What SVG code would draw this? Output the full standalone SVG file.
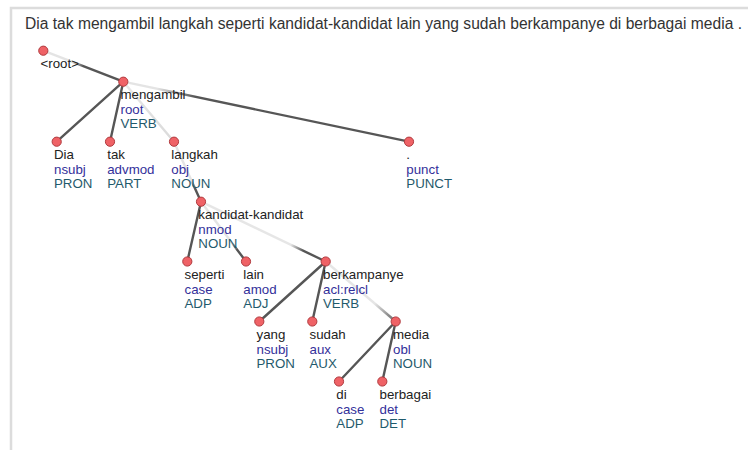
<svg xmlns="http://www.w3.org/2000/svg" width="748" height="450" viewBox="0 0 748 450">
  <defs>
    <style>
      .frame { fill: #ffffff; stroke: #dcdcdc; stroke-width: 2.5; }
      .title { font-family: "Liberation Sans", Arial, sans-serif; font-size: 15.6px; fill: #333333; }
      .edge { stroke-width: 2.4; stroke-linecap: round; fill: none; }
      .dark { stroke: #565656; }
      .node circle { fill: #ef6266; stroke: #b03a3e; stroke-width: 1; }
      .node text { font-family: "Liberation Sans", Arial, sans-serif; font-size: 13.3px; }
      .form { fill: #222222; }
      .rel { fill: #33309a; }
      .pos { fill: #1f5a6c; }
    </style>
    <!-- edges toward a dependent on the right fade in from the head -->
    <linearGradient id="g-root" gradientUnits="userSpaceOnUse" x1="43.3" y1="50.7" x2="123.3" y2="81.7">
      <stop offset="0" stop-color="#e4e4e4"/><stop offset="0.35" stop-color="#e4e4e4"/><stop offset="0.5" stop-color="#565656"/><stop offset="1" stop-color="#565656"/>
    </linearGradient>
    <linearGradient id="g-langkah" gradientUnits="userSpaceOnUse" x1="123.3" y1="81.7" x2="174" y2="141.7">
      <stop offset="0" stop-color="#e8e8e8"/><stop offset="1" stop-color="#dadada"/>
    </linearGradient>
    <linearGradient id="g-punct" gradientUnits="userSpaceOnUse" x1="123.3" y1="81.7" x2="409" y2="141.7">
      <stop offset="0" stop-color="#e4e4e4"/><stop offset="0.12" stop-color="#e4e4e4"/><stop offset="0.25" stop-color="#565656"/><stop offset="1" stop-color="#565656"/>
    </linearGradient>
    <linearGradient id="g-kandidat" gradientUnits="userSpaceOnUse" x1="174" y1="141.7" x2="201" y2="201.7">
      <stop offset="0" stop-color="#e4e4e4"/><stop offset="0.65" stop-color="#e4e4e4"/><stop offset="0.78" stop-color="#565656"/><stop offset="1" stop-color="#565656"/>
    </linearGradient>
    <linearGradient id="g-lain" gradientUnits="userSpaceOnUse" x1="201" y1="201.7" x2="246" y2="261.5">
      <stop offset="0" stop-color="#e4e4e4"/><stop offset="0.7" stop-color="#e4e4e4"/><stop offset="0.8" stop-color="#565656"/><stop offset="1" stop-color="#565656"/>
    </linearGradient>
    <linearGradient id="g-berkampanye" gradientUnits="userSpaceOnUse" x1="201" y1="201.7" x2="325.7" y2="261.5">
      <stop offset="0" stop-color="#e6e6e6"/><stop offset="0.72" stop-color="#e6e6e6"/><stop offset="0.82" stop-color="#565656"/><stop offset="1" stop-color="#565656"/>
    </linearGradient>
    <linearGradient id="g-media" gradientUnits="userSpaceOnUse" x1="325.7" y1="261.5" x2="395.7" y2="321.5">
      <stop offset="0" stop-color="#e6e6e6"/><stop offset="0.7" stop-color="#e6e6e6"/><stop offset="0.9" stop-color="#8a8a8a"/><stop offset="1" stop-color="#6a6a6a"/>
    </linearGradient>
  </defs>

  <rect class="frame" x="11" y="8" width="800" height="500"/>
  <text class="title" x="25" y="29" textLength="717" lengthAdjust="spacing">Dia tak mengambil langkah seperti kandidat-kandidat lain yang sudah berkampanye di berbagai media .</text>

  <g id="connectors">
    <line class="edge" stroke="url(#g-root)" x1="43.3" y1="50.7" x2="123.3" y2="81.7"/>
    <line class="edge dark" x1="123.3" y1="81.7" x2="56.7" y2="141.7"/>
    <line class="edge dark" x1="123.3" y1="81.7" x2="110" y2="141.7"/>
    <line class="edge" stroke="url(#g-langkah)" x1="123.3" y1="81.7" x2="174" y2="141.7"/>
    <line class="edge" stroke="url(#g-punct)" x1="123.3" y1="81.7" x2="409" y2="141.7"/>
    <line class="edge" stroke="url(#g-kandidat)" x1="174" y1="141.7" x2="201" y2="201.7"/>
    <line class="edge dark" x1="201" y1="201.7" x2="187.3" y2="261.5"/>
    <line class="edge" stroke="url(#g-lain)" x1="201" y1="201.7" x2="246" y2="261.5"/>
    <line class="edge" stroke="url(#g-berkampanye)" x1="201" y1="201.7" x2="325.7" y2="261.5"/>
    <line class="edge dark" x1="325.7" y1="261.5" x2="259.3" y2="321.5"/>
    <line class="edge dark" x1="325.7" y1="261.5" x2="312.3" y2="321.5"/>
    <line class="edge" stroke="url(#g-media)" x1="325.7" y1="261.5" x2="395.7" y2="321.5"/>
    <line class="edge dark" x1="395.7" y1="321.5" x2="339" y2="381.5"/>
    <line class="edge dark" x1="395.7" y1="321.5" x2="382.3" y2="381.5"/>
  </g>

  <g id="node-root" class="node">
    <circle cx="43.3" cy="50.7" r="4.6"/>
    <text class="form" x="40.5" y="68">&lt;root&gt;</text>
  </g>
  <g id="node-mengambil" class="node">
    <circle cx="123.3" cy="81.7" r="4.6"/>
    <text class="form" x="120.5" y="99">mengambil</text>
    <text class="rel" x="120.5" y="113.5">root</text>
    <text class="pos" x="120.5" y="128">VERB</text>
  </g>
  <g id="node-dia" class="node">
    <circle cx="56.7" cy="141.7" r="4.6"/>
    <text class="form" x="54" y="159">Dia</text>
    <text class="rel" x="54" y="173.5">nsubj</text>
    <text class="pos" x="54" y="188">PRON</text>
  </g>
  <g id="node-tak" class="node">
    <circle cx="110" cy="141.7" r="4.6"/>
    <text class="form" x="107.2" y="159">tak</text>
    <text class="rel" x="107.2" y="173.5">advmod</text>
    <text class="pos" x="107.2" y="188">PART</text>
  </g>
  <g id="node-langkah" class="node">
    <circle cx="174" cy="141.7" r="4.6"/>
    <text class="form" x="171.3" y="159">langkah</text>
    <text class="rel" x="171.3" y="173.5">obj</text>
    <text class="pos" x="171.3" y="188">NOUN</text>
  </g>
  <g id="node-punct" class="node">
    <circle cx="409" cy="141.7" r="4.6"/>
    <text class="form" x="406.3" y="159">.</text>
    <text class="rel" x="406.3" y="173.5">punct</text>
    <text class="pos" x="406.3" y="188">PUNCT</text>
  </g>
  <g id="node-kandidat-kandidat" class="node">
    <circle cx="201" cy="201.7" r="4.6"/>
    <text class="form" x="198.3" y="219">kandidat-kandidat</text>
    <text class="rel" x="198.3" y="233.5">nmod</text>
    <text class="pos" x="198.3" y="248">NOUN</text>
  </g>
  <g id="node-seperti" class="node">
    <circle cx="187.3" cy="261.5" r="4.6"/>
    <text class="form" x="184.5" y="279">seperti</text>
    <text class="rel" x="184.5" y="293.5">case</text>
    <text class="pos" x="184.5" y="308">ADP</text>
  </g>
  <g id="node-lain" class="node">
    <circle cx="246" cy="261.5" r="4.6"/>
    <text class="form" x="243.3" y="279">lain</text>
    <text class="rel" x="243.3" y="293.5">amod</text>
    <text class="pos" x="243.3" y="308">ADJ</text>
  </g>
  <g id="node-berkampanye" class="node">
    <circle cx="325.7" cy="261.5" r="4.6"/>
    <text class="form" x="323" y="279">berkampanye</text>
    <text class="rel" x="323" y="293.5">acl:relcl</text>
    <text class="pos" x="323" y="308">VERB</text>
  </g>
  <g id="node-yang" class="node">
    <circle cx="259.3" cy="321.5" r="4.6"/>
    <text class="form" x="256.5" y="339">yang</text>
    <text class="rel" x="256.5" y="353.5">nsubj</text>
    <text class="pos" x="256.5" y="368">PRON</text>
  </g>
  <g id="node-sudah" class="node">
    <circle cx="312.3" cy="321.5" r="4.6"/>
    <text class="form" x="309.5" y="339">sudah</text>
    <text class="rel" x="309.5" y="353.5">aux</text>
    <text class="pos" x="309.5" y="368">AUX</text>
  </g>
  <g id="node-media" class="node">
    <circle cx="395.7" cy="321.5" r="4.6"/>
    <text class="form" x="393" y="339">media</text>
    <text class="rel" x="393" y="353.5">obl</text>
    <text class="pos" x="393" y="368">NOUN</text>
  </g>
  <g id="node-di" class="node">
    <circle cx="339" cy="381.5" r="4.6"/>
    <text class="form" x="336.3" y="399">di</text>
    <text class="rel" x="336.3" y="413.5">case</text>
    <text class="pos" x="336.3" y="428">ADP</text>
  </g>
  <g id="node-berbagai" class="node">
    <circle cx="382.3" cy="381.5" r="4.6"/>
    <text class="form" x="379.5" y="399">berbagai</text>
    <text class="rel" x="379.5" y="413.5">det</text>
    <text class="pos" x="379.5" y="428">DET</text>
  </g>
</svg>
